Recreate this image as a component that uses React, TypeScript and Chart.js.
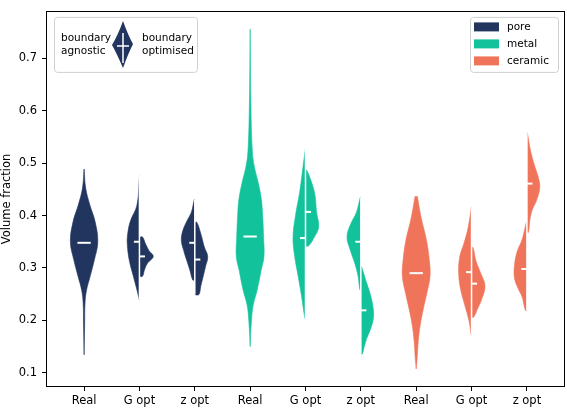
import React, { useEffect, useRef } from "react";
import { Chart, registerables } from "chart.js";

Chart.register(...registerables);

// ---------- data ----------
const tickLabels = ["Real", "G opt", "z opt", "Real", "G opt", "z opt", "Real", "G opt", "z opt"];
const materials = ["pore", "metal", "ceramic"];
const yTicks = [0.1, 0.2, 0.3, 0.4, 0.5, 0.6, 0.7];

// violin profiles: [volume fraction, relative density]
const poreReal = [[0.489, 0], [0.452, 0.12], [0.42, 0.42], [0.389, 0.79], [0.35, 0.99], [0.314, 0.73], [0.284, 0.44], [0.258, 0.18], [0.234, 0.07], [0.191, 0.04], [0.134, 0]];
const poreGAgn = [[0.476, 0], [0.42, 0.18], [0.389, 0.66], [0.365, 0.85], [0.346, 0.88], [0.314, 0.73], [0.284, 0.44], [0.258, 0.18], [0.24, 0.02]];
const poreGOpt = [[0.359, 0.22], [0.346, 0.44], [0.333, 0.69], [0.322, 1.0], [0.309, 0.58], [0.296, 0.36], [0.284, 0.22]];
const poreZAgn = [[0.43, 0.04], [0.407, 0.24], [0.389, 0.58], [0.37, 0.88], [0.352, 0.97], [0.333, 0.8], [0.314, 0.58], [0.296, 0.36], [0.277, 0.15]];
const poreZOpt = [[0.387, 0.15], [0.365, 0.44], [0.34, 0.69], [0.322, 0.93], [0.303, 0.78], [0.284, 0.61], [0.266, 0.44], [0.249, 0.29]];

const metalReal = [[0.756, 0], [0.62, 0.05], [0.527, 0.15], [0.495, 0.29], [0.463, 0.58], [0.433, 0.8], [0.402, 0.9], [0.359, 0.97], [0.322, 1.0], [0.296, 0.8], [0.258, 0.51], [0.229, 0.22], [0.197, 0.09], [0.15, 0]];
const metalGAgn = [[0.529, 0], [0.495, 0.17], [0.445, 0.42], [0.402, 0.71], [0.359, 0.9], [0.322, 0.78], [0.284, 0.53], [0.247, 0.29], [0.203, 0.04]];
const metalGOpt = [[0.486, 0.11], [0.445, 0.64], [0.407, 0.8], [0.378, 0.95], [0.359, 0.64], [0.342, 0.22]];
const metalZAgn = [[0.435, 0.04], [0.407, 0.31], [0.383, 0.75], [0.359, 1.0], [0.333, 0.75], [0.309, 0.44], [0.284, 0.2], [0.258, 0.07]];
const metalZOpt = [[0.303, 0.04], [0.271, 0.42], [0.247, 0.71], [0.221, 0.9], [0.203, 0.9], [0.184, 0.71], [0.165, 0.42], [0.147, 0.22], [0.136, 0.11]];

const ceramicReal = [[0.437, 0.08], [0.396, 0.36], [0.352, 0.75], [0.314, 0.95], [0.284, 1.0], [0.253, 0.78], [0.221, 0.51], [0.191, 0.29], [0.16, 0.15], [0.128, 0.07], [0.107, 0]];
const ceramicGAgn = [[0.415, 0.02], [0.378, 0.24], [0.346, 0.56], [0.322, 0.85], [0.29, 0.93], [0.258, 0.78], [0.229, 0.49], [0.197, 0.17], [0.173, 0.04]];
const ceramicGOpt = [[0.339, 0.11], [0.314, 0.31], [0.29, 0.66], [0.266, 0.97], [0.24, 0.73], [0.221, 0.42], [0.206, 0.15]];
const ceramicZAgn = [[0.387, 0.04], [0.355, 0.34], [0.331, 0.71], [0.305, 0.9], [0.281, 0.9], [0.262, 0.66], [0.244, 0.34], [0.219, 0.11]];
const ceramicZOpt = [[0.557, 0.04], [0.529, 0.22], [0.499, 0.51], [0.473, 0.82], [0.454, 0.93], [0.43, 0.71], [0.411, 0.39], [0.393, 0.22], [0.368, 0.11]];

const realMedians = [0.348, 0.36, 0.29];
const gAgnMedians = [0.35, 0.357, 0.292];
const gOptMedians = [0.322, 0.407, 0.27];
const zAgnMedians = [0.348, 0.35, 0.298];
const zOptMedians = [0.316, 0.219, 0.461];

// ---------- styles ----------
const COLORS = ["#22355e", "#12c29b", "#f0745a"];
const HALF_W = 0.25;
const MED_FULL = 0.12;
const MED_HALF = 0.1;
const FONT = "DejaVu Sans";

type Prof = number[][];

function fullViolin(c: number, p: Prof) {
  const pts: { x: number; y: number }[] = [];
  for (const [y, d] of p) pts.push({ x: c - d * HALF_W, y });
  for (let i = p.length - 1; i >= 0; i--) pts.push({ x: c + p[i][1] * HALF_W, y: p[i][0] });
  return pts;
}
function halfViolin(c: number, p: Prof, side: number) {
  const pts: { x: number; y: number }[] = [{ x: c, y: p[0][0] }];
  for (const [y, d] of p) pts.push({ x: c + side * d * HALF_W, y });
  pts.push({ x: c, y: p[p.length - 1][0] });
  return pts;
}

const reals = [poreReal, metalReal, ceramicReal];
const gAgn = [poreGAgn, metalGAgn, ceramicGAgn];
const gOpt = [poreGOpt, metalGOpt, ceramicGOpt];
const zAgn = [poreZAgn, metalZAgn, ceramicZAgn];
const zOpt = [poreZOpt, metalZOpt, ceramicZOpt];

function buildDatasets() {
  const ds: any[] = [];
  const shape = (data: any, color: string) => ({
    data,
    showLine: true,
    fill: "shape",
    backgroundColor: color,
    borderColor: color,
    borderWidth: 0.6,
    pointRadius: 0,
    tension: 0.4,
    order: 3,
  });
  const wline = (data: any, w: number, order: number) => ({
    data,
    showLine: true,
    fill: false,
    borderColor: "#ffffff",
    borderWidth: w,
    pointRadius: 0,
    tension: 0,
    order,
  });
  materials.forEach((_, i) => {
    const col = COLORS[i];
    const cR = 3 * i, cG = 3 * i + 1, cZ = 3 * i + 2;
    ds.push(shape(fullViolin(cR, reals[i]), col));
    ds.push(shape(halfViolin(cG, gAgn[i], -1), col));
    ds.push(shape(halfViolin(cG, gOpt[i], 1), col));
    ds.push(shape(halfViolin(cZ, zAgn[i], -1), col));
    ds.push(shape(halfViolin(cZ, zOpt[i], 1), col));
    const spanG = [...gAgn[i], ...gOpt[i]].map((r) => r[0]);
    const spanZ = [...zAgn[i], ...zOpt[i]].map((r) => r[0]);
    ds.push(wline([{ x: cG, y: Math.max(...spanG) }, { x: cG, y: Math.min(...spanG) }], 1.5, 2));
    ds.push(wline([{ x: cZ, y: Math.max(...spanZ) }, { x: cZ, y: Math.min(...spanZ) }], 1.5, 2));
    ds.push(wline([{ x: cR - MED_FULL, y: realMedians[i] }, { x: cR + MED_FULL, y: realMedians[i] }], 2, 1));
    ds.push(wline([{ x: cG - MED_HALF, y: gAgnMedians[i] }, { x: cG, y: gAgnMedians[i] }], 2, 1));
    ds.push(wline([{ x: cG, y: gOptMedians[i] }, { x: cG + MED_HALF, y: gOptMedians[i] }], 2, 1));
    ds.push(wline([{ x: cZ - MED_HALF, y: zAgnMedians[i] }, { x: cZ, y: zAgnMedians[i] }], 2, 1));
    ds.push(wline([{ x: cZ, y: zOptMedians[i] }, { x: cZ + MED_HALF, y: zOptMedians[i] }], 2, 1));
  });
  return ds;
}

function roundRect(ctx: CanvasRenderingContext2D, x: number, y: number, w: number, h: number, r: number) {
  ctx.beginPath();
  ctx.moveTo(x + r, y);
  ctx.lineTo(x + w - r, y);
  ctx.quadraticCurveTo(x + w, y, x + w, y + r);
  ctx.lineTo(x + w, y + h - r);
  ctx.quadraticCurveTo(x + w, y + h, x + w - r, y + h);
  ctx.lineTo(x + r, y + h);
  ctx.quadraticCurveTo(x, y + h, x, y + h - r);
  ctx.lineTo(x, y + r);
  ctx.quadraticCurveTo(x, y, x + r, y);
  ctx.closePath();
}

const framePlugin = {
  id: "frameAndLegends",
  afterDraw(chart: any) {
    const ctx: CanvasRenderingContext2D = chart.ctx;
    const { left, top, right, bottom } = chart.chartArea;
    ctx.save();
    ctx.strokeStyle = "#000";
    ctx.lineWidth = 1;
    ctx.strokeRect(Math.round(left) - 0.5, Math.round(top) - 0.5, Math.round(right - left) + 1, Math.round(bottom - top) + 1);

    // left legend
    const lx = left + 7, ly = top + 5;
    roundRect(ctx, lx + 0.5, ly + 0.5, 143, 55, 3);
    ctx.fillStyle = "rgba(255,255,255,0.85)";
    ctx.fill();
    ctx.strokeStyle = "#d0d0d0";
    ctx.stroke();
    ctx.fillStyle = "#000";
    ctx.font = `10.5px "${FONT}"`;
    ctx.textBaseline = "middle";
    ctx.textAlign = "left";
    ctx.fillText("boundary", lx + 7, ly + 21);
    ctx.fillText("agnostic", lx + 7, ly + 34);
    ctx.fillText("boundary", lx + 88, ly + 21);
    ctx.fillText("optimised", lx + 88, ly + 34);
    const cx = lx + 69;
    const ty = ly + 4, by = ly + 51, my = ly + 28;
    ctx.beginPath();
    ctx.moveTo(cx, ty);
    ctx.quadraticCurveTo(cx - 5, my - 10, cx - 11, my);
    ctx.quadraticCurveTo(cx - 6, my + 9, cx, by);
    ctx.quadraticCurveTo(cx + 5, my + 9, cx + 10, my - 1);
    ctx.quadraticCurveTo(cx + 5, my - 10, cx, ty);
    ctx.closePath();
    ctx.fillStyle = COLORS[0];
    ctx.fill();
    ctx.strokeStyle = "#fff";
    ctx.lineWidth = 1.5;
    ctx.beginPath();
    ctx.moveTo(cx, ly + 16);
    ctx.lineTo(cx, ly + 46);
    ctx.moveTo(cx - 6, my + 1);
    ctx.lineTo(cx + 6, my + 1);
    ctx.stroke();

    // right legend
    const rx = right - 94, ry = top + 5;
    roundRect(ctx, rx + 0.5, ry + 0.5, 88, 55, 3);
    ctx.fillStyle = "rgba(255,255,255,0.85)";
    ctx.fill();
    ctx.strokeStyle = "#d0d0d0";
    ctx.lineWidth = 1;
    ctx.stroke();
    materials.forEach((m, i) => {
      const yc = ry + 10 + i * 17;
      ctx.fillStyle = COLORS[i];
      ctx.fillRect(rx + 4, yc - 4.5, 25, 9);
      ctx.fillStyle = "#000";
      ctx.font = `10.5px "${FONT}"`;
      ctx.fillText(m, rx + 37, yc);
    });
    ctx.restore();
  },
};

export default function App() {
  const ref = useRef<HTMLCanvasElement>(null);
  useEffect(() => {
    if (!ref.current) return;
    Chart.defaults.font.family = FONT;
    const chart = new Chart(ref.current, {
      type: "scatter",
      data: { datasets: buildDatasets() },
      options: {
        animation: false,
        responsive: false,
        maintainAspectRatio: false,
        devicePixelRatio: 1,
        layout: { padding: { top: 2, right: 3, left: 0, bottom: 0 } },
        plugins: { legend: { display: false }, tooltip: { enabled: false } },
        scales: {
          x: {
            type: "linear",
            min: -0.67,
            max: 8.67,
            afterBuildTicks: (s: any) => {
              s.ticks = tickLabels.map((_, i) => ({ value: i }));
            },
            afterFit: (s: any) => {
              s.height = 24;
            },
            ticks: {
              callback: (v: any) => tickLabels[Math.round(Number(v))] ?? "",
              color: "#000",
              font: { size: 11.5, family: FONT },
              padding: 3,
              maxRotation: 0,
              autoSkip: false,
            },
            grid: { drawOnChartArea: false, drawTicks: true, tickLength: 5, color: "#000", lineWidth: 1 },
            border: { display: false },
          },
          y: {
            type: "linear",
            min: 0.0745,
            max: 0.789,
            afterBuildTicks: (s: any) => {
              s.ticks = yTicks.map((v) => ({ value: v }));
            },
            afterFit: (s: any) => {
              s.width = 47;
            },
            ticks: {
              callback: (v: any) => Number(v).toFixed(1),
              color: "#000",
              font: { size: 11.5, family: FONT },
              padding: 5,
            },
            title: {
              display: true,
              text: "Volume fraction",
              color: "#000",
              font: { size: 11.5, family: FONT },
              padding: { top: 0, bottom: 0 },
            },
            grid: { drawOnChartArea: false, drawTicks: true, tickLength: 5, color: "#000", lineWidth: 1 },
            border: { display: false },
          },
        },
      },
      plugins: [framePlugin],
    });
    return () => chart.destroy();
  }, []);
  return (
    <div style={{ position: "fixed", left: 0, top: 0, width: 567, height: 410, background: "#fff" }}>
      <canvas ref={ref} width={567} height={410} />
    </div>
  );
}
